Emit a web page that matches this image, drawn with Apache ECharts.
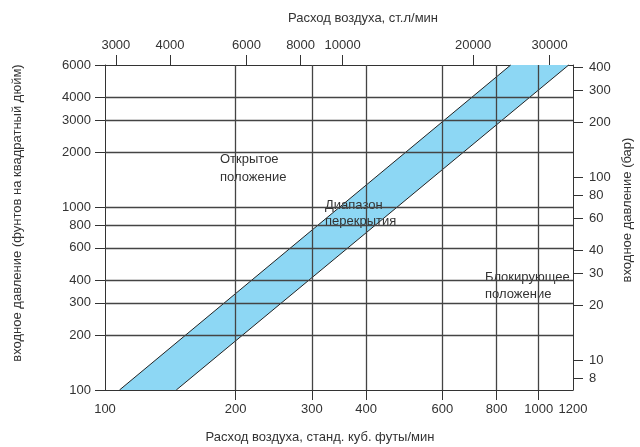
<!DOCTYPE html>
<html>
<head>
<meta charset="utf-8">
<script src="https://cdn.jsdelivr.net/npm/echarts@6/dist/echarts.min.js"></script>
<style>
html, body { margin: 0; padding: 0; background: #fff; }
#chart { width: 640px; height: 447px; }
</style>
</head>
<body>
<div id="chart"></div>
<script>
// подписи шкал
const scfmTicks = [100, 200, 300, 400, 600, 800, 1000, 1200];
const slpmTicks = [3000, 4000, 6000, 8000, 10000, 20000, 30000];
const psiTicks = [100, 200, 300, 400, 600, 800, 1000, 2000, 3000, 4000, 6000];
const barTicks = [8, 10, 20, 30, 40, 60, 80, 100, 200, 300, 400];

// полоса перекрытия: расход (scfm) на нижней и верхней границе давления
const bandPsi = [100, 6000];
const bandUpper = [108, 862];
const bandLower = [146, 1173];

const SLPM_PER_SCFM = 28.3168;
const PSI_PER_BAR = 14.5038;

const FONT = '"Liberation Sans", Arial, sans-serif';
const INK = '#333';
const GRID = '#444';

const myChart = echarts.init(document.getElementById('chart'), null, { renderer: 'canvas' });

// без разделителя тысяч
const plain = v => String(Math.round(v));
const tickLabel = { color: INK, fontSize: 13, fontFamily: FONT, formatter: plain };

myChart.setOption({
    animation: false,
    textStyle: { fontFamily: FONT },
    grid: { left: 105, right: 67, top: 65, bottom: 57 },
    xAxis: [
        {
            type: 'log', logBase: 10, min: 100, max: 1200, position: 'bottom',
            axisLine: { show: true, lineStyle: { color: INK, width: 1 } },
            axisTick: { show: true, customValues: scfmTicks.slice(1, -1), length: 10, lineStyle: { color: INK } },
            axisLabel: Object.assign({ customValues: scfmTicks, margin: 13 }, tickLabel),
            splitLine: { show: false }, minorTick: { show: false }
        },
        {
            type: 'log', logBase: 10, min: 100 * SLPM_PER_SCFM, max: 1200 * SLPM_PER_SCFM, position: 'top',
            axisLine: { show: true, lineStyle: { color: INK, width: 1 } },
            axisTick: { show: true, customValues: slpmTicks, length: 10, lineStyle: { color: INK } },
            axisLabel: Object.assign({ customValues: slpmTicks, margin: 13 }, tickLabel),
            splitLine: { show: false }, minorTick: { show: false }
        }
    ],
    yAxis: [
        {
            type: 'log', logBase: 10, min: 100, max: 6000, position: 'left',
            axisLine: { show: true, lineStyle: { color: INK, width: 1 } },
            axisTick: { show: true, customValues: psiTicks, length: 10, lineStyle: { color: INK } },
            axisLabel: Object.assign({ customValues: psiTicks, margin: 14 }, tickLabel),
            splitLine: { show: false }, minorTick: { show: false }
        },
        {
            type: 'log', logBase: 10, min: 100 / PSI_PER_BAR, max: 6000 / PSI_PER_BAR, position: 'right',
            axisLine: { show: true, lineStyle: { color: INK, width: 1 } },
            axisTick: { show: true, customValues: barTicks, length: 10, lineStyle: { color: INK } },
            axisLabel: Object.assign({ customValues: barTicks, margin: 16 }, tickLabel),
            splitLine: { show: false }, minorTick: { show: false }
        }
    ],
    series: [
        {
            // полоса диапазона перекрытия
            type: 'custom',
            xAxisIndex: 0, yAxisIndex: 0,
            z: 1,
            silent: true,
            data: [[bandUpper[0], bandPsi[0]]],
            renderItem: function (params, api) {
                const u0 = api.coord([bandUpper[0], bandPsi[0]]);
                const u1 = api.coord([bandUpper[1], bandPsi[1]]);
                const l0 = api.coord([bandLower[0], bandPsi[0]]);
                const l1 = api.coord([bandLower[1], bandPsi[1]]);
                return {
                    type: 'group',
                    children: [
                        { type: 'polygon', shape: { points: [u0, l0, l1, u1] }, style: { fill: '#8dd7f4' } },
                        { type: 'line', shape: { x1: u0[0], y1: u0[1], x2: u1[0], y2: u1[1] }, style: { stroke: '#222', lineWidth: 1 } },
                        { type: 'line', shape: { x1: l0[0], y1: l0[1], x2: l1[0], y2: l1[1] }, style: { stroke: '#222', lineWidth: 1 } }
                    ]
                };
            }
        },
        {
            // сетка
            type: 'line',
            xAxisIndex: 0, yAxisIndex: 0,
            z: 3,
            data: [],
            markLine: {
                silent: true,
                symbol: 'none',
                label: { show: false },
                lineStyle: { color: GRID, width: 1.3, type: 'solid' },
                data: scfmTicks.slice(1, -1).map(v => ({ xAxis: v }))
                    .concat(psiTicks.slice(1, -1).map(v => ({ yAxis: v })))
            }
        }
    ],
    graphic: [
        { type: 'text', x: 363, y: 18, style: { text: 'Расход воздуха, ст.л/мин', fill: INK, font: '13px ' + FONT, align: 'center', verticalAlign: 'middle' } },
        { type: 'text', x: 320, y: 437, style: { text: 'Расход воздуха, станд. куб. футы/мин', fill: INK, font: '13px ' + FONT, align: 'center', verticalAlign: 'middle' } },
        { type: 'text', x: 17, y: 213, rotation: Math.PI / 2, style: { text: 'входное давление (фунтов на квадратный дюйм)', fill: INK, font: '13px ' + FONT, align: 'center', verticalAlign: 'middle' } },
        { type: 'text', x: 627, y: 210, rotation: Math.PI / 2, style: { text: 'входное давление (бар)', fill: INK, font: '13px ' + FONT, align: 'center', verticalAlign: 'middle' } },
        { type: 'text', x: 220, y: 150, z: 2, style: { text: 'Открытое\nположение', fill: INK, font: '13px ' + FONT, lineHeight: 18, align: 'left', verticalAlign: 'top' } },
        { type: 'text', x: 325, y: 197, z: 2, style: { text: 'Диапазон\nперекрытия', fill: INK, font: '13px ' + FONT, lineHeight: 16, align: 'left', verticalAlign: 'top' } },
        { type: 'text', x: 485, y: 269, z: 2, style: { text: 'Блокирующее\nположение', fill: INK, font: '13px ' + FONT, lineHeight: 17, align: 'left', verticalAlign: 'top' } }
    ]
});
</script>
</body>
</html>
